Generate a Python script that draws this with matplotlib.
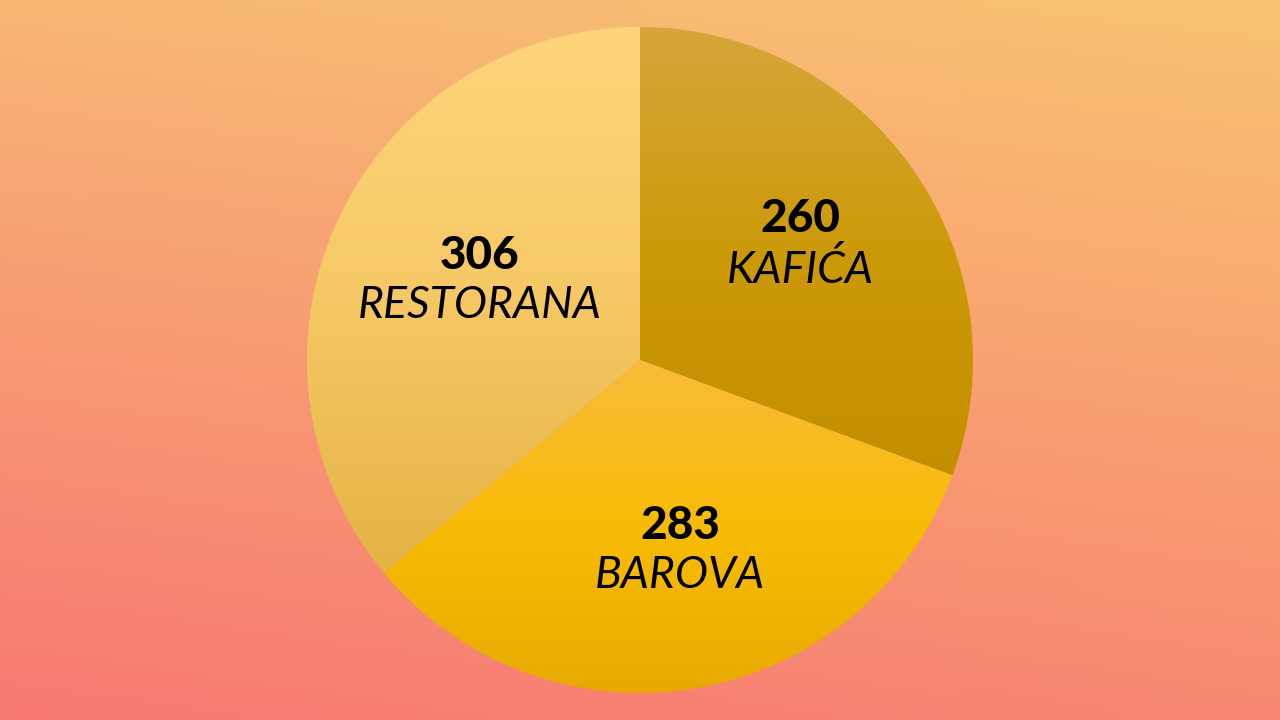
import numpy as np
import matplotlib
matplotlib.use("Agg")
import matplotlib.pyplot as plt
from matplotlib.colors import LinearSegmentedColormap

# Data
categories = ["KAFIĆA", "BAROVA", "RESTORANA"]
values = [260, 283, 306]
# gradient stops per wedge: bottom -> top
grad_colors = [
    ["#C38D00", "#CC9A08", "#D6A63C"],
    ["#E8AA00", "#F9BC04", "#F7BB3A"],
    ["#E4B344", "#F6C865", "#FFD47B"],
]

W, H = 1280, 720
fig = plt.figure(figsize=(12.8, 7.2), dpi=100)
ax = fig.add_axes([0, 0, 1, 1])

# Background gradient (top-right yellowish -> bottom-left salmon)
yy, xx = np.mgrid[0:1:200j, 0:1:356j]  # yy: 0 bottom -> 1 top
tl = np.array([0xF7, 0xB6, 0x75]) / 255
tr = np.array([0xF9, 0xC3, 0x71]) / 255
bl = np.array([0xF7, 0x78, 0x72]) / 255
br = np.array([0xF8, 0x88, 0x72]) / 255
img = ((1 - xx)[..., None] * (yy[..., None] * tl + (1 - yy)[..., None] * bl)
       + xx[..., None] * (yy[..., None] * tr + (1 - yy)[..., None] * br))
ax.imshow(img, extent=[0, W, 0, H], origin="lower", aspect="auto", zorder=0)

cx, cy, r = 640, 360, 333
wedges, _ = ax.pie(values, center=(cx, cy), radius=r, startangle=90,
                   counterclock=False, frame=True)
ax.set_xlim(0, W)
ax.set_ylim(0, H)
ax.axis("off")
ax.set_aspect("auto")

grad = np.linspace(0, 1, 256).reshape(-1, 1)
for w, cols in zip(wedges, grad_colors):
    w.set_facecolor("none")
    w.set_edgecolor("none")
    th = np.radians(np.linspace(w.theta1, w.theta2, 400))
    ys = np.concatenate([[w.center[1]], w.center[1] + w.r * np.sin(th)])
    xs = np.concatenate([[w.center[0]], w.center[0] + w.r * np.cos(th)])
    cmap = LinearSegmentedColormap.from_list("g", cols)
    im = ax.imshow(grad, cmap=cmap,
                   extent=[xs.min(), xs.max(), ys.min(), ys.max()],
                   origin="lower", aspect="auto", zorder=1)
    im.set_clip_path(w)

# Labels
num_pos = [(800, 219), (680, 526), (480, 256)]
lab_pos = [(800, 270), (680, 575), (480, 305)]
for v, c, (nx, ny), (lx, ly) in zip(values, categories, num_pos, lab_pos):
    ax.text(nx, H - ny, str(v), ha="center", va="center", fontsize=33,
            fontweight="black", family="Lato", color="black", zorder=3)
    ax.text(lx, H - ly, c, ha="center", va="center", fontsize=32,
            fontstyle="italic", fontweight="normal", family="Lato",
            color="black", zorder=3)

fig.savefig("out.png", dpi=100)
